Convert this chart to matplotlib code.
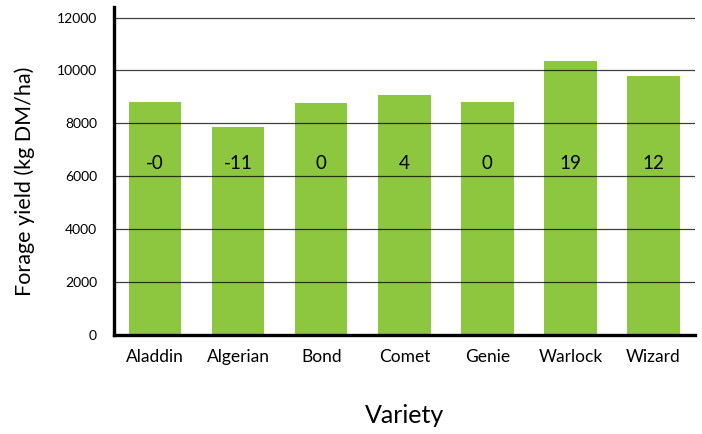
import matplotlib.pyplot as plt

varieties = ['Aladdin', 'Algerian', 'Bond', 'Comet', 'Genie', 'Warlock', 'Wizard']
yield_kg = [8810, 7860, 8780, 9080, 8810, 10370, 9800]
diff_pct = ['-0', '-11', '0', '4', '0', '19', '12']

plt.rcParams['font.family'] = ['Lato', 'DejaVu Sans']

fig = plt.figure(figsize=(7.02, 4.34), dpi=100)
ax = fig.add_axes([0.162, 0.228, 0.828, 0.756])

x = range(len(varieties))
ax.bar(x, yield_kg, width=0.63, color='#8dc63f', zorder=1)

for xi, lab in zip(x, diff_pct):
    ax.text(xi, 6500, lab, ha='center', va='center', fontsize=13.5, color='black', zorder=3)

ax.set_xlim(-0.5, 6.5)
ax.set_ylim(0, 12400)
ax.set_yticks(range(0, 12001, 2000))
ax.yaxis.grid(True, color='black', linewidth=0.9, alpha=0.75, zorder=2)
ax.set_axisbelow(False)

ax.set_xticks(list(x))
ax.set_xticklabels(varieties, fontsize=12.5)
ax.tick_params(axis='both', length=0)
ax.tick_params(axis='y', labelsize=10, pad=12)
ax.tick_params(axis='x', pad=10)

for s in ['top', 'right']:
    ax.spines[s].set_visible(False)
for s in ['left', 'bottom']:
    ax.spines[s].set_linewidth(2.4)
    ax.spines[s].set_zorder(4)

ax.set_ylabel('Forage yield (kg DM/ha)', fontsize=15.5)
ax.yaxis.set_label_coords(-0.135, 0.47)
ax.set_xlabel('Variety', fontsize=18, labelpad=28)

fig.savefig('out.png', dpi=100)
